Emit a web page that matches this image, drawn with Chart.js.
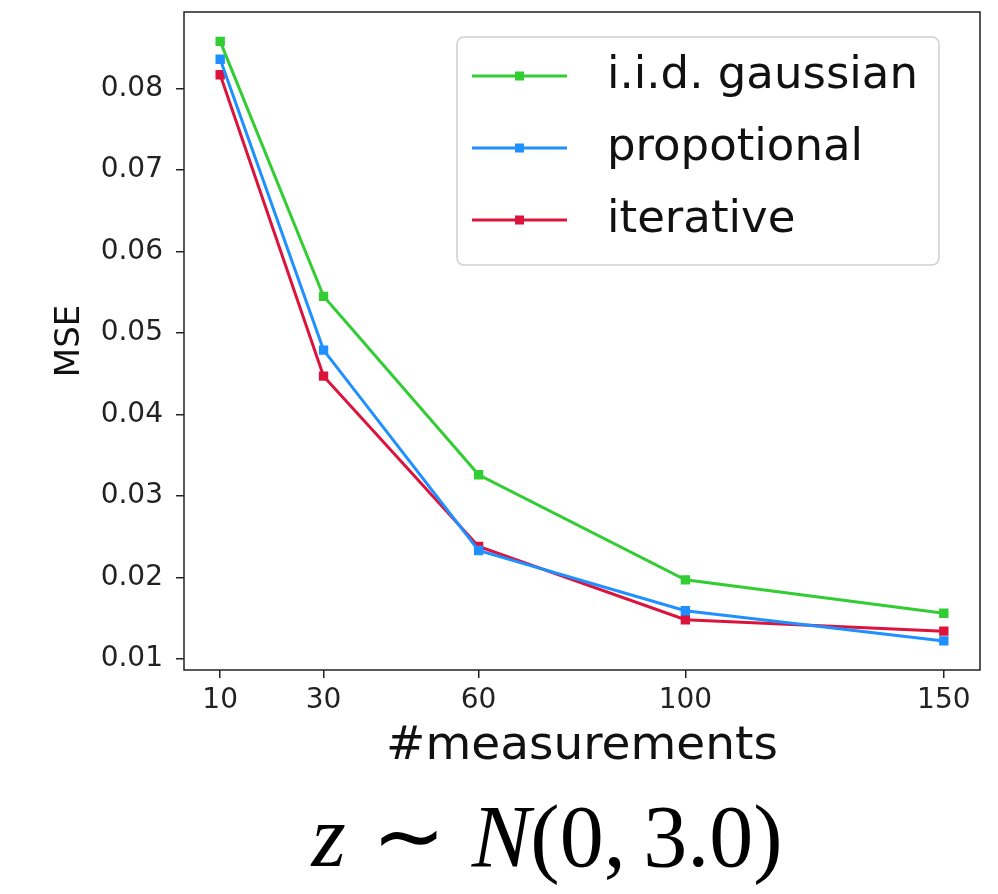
<!DOCTYPE html>
<html>
<head>
<meta charset="utf-8">
<script src="https://cdn.jsdelivr.net/npm/chart.js@4"></script>
<style>
  html, body { margin: 0; padding: 0; background: #fff; }
  #wrap { position: relative; width: 998px; height: 894px; }
  #formula {
    position: absolute; left: 0; top: 793px; width: 1094px;
    text-align: center; font-family: "Liberation Serif", serif;
    font-size: 88px; line-height: 88px; color: #000; white-space: nowrap;
    word-spacing: 4px;
  }
  #formula i { font-style: italic; }
</style>
</head>
<body>
<div id="wrap">
  <canvas id="chart" width="998" height="894"></canvas>
  <div id="formula"><i>z</i>&nbsp;∼&nbsp;<i>N</i>(0,&thinsp;3.0)</div>
</div>
<script>
// dados
const measurements = [10, 30, 60, 100, 150]
const iidGaussian = [0.0858, 0.0545, 0.0326, 0.0197, 0.0156]
const propotional = [0.0836, 0.0479, 0.0233, 0.0159, 0.0122]
const iterative = [0.0817, 0.0447, 0.0238, 0.0148, 0.0134]
const seriesNames = ['i.i.d. gaussian', 'propotional', 'iterative']
const xTicks = [10, 30, 60, 100, 150]
const yTicks = [0.01, 0.02, 0.03, 0.04, 0.05, 0.06, 0.07, 0.08]

const colors = ['#32cd32', '#1e90ff', '#dc143c']

function toPoints(values) {
  return measurements.map((m, i) => ({ x: m, y: values[i] }))
}

function makeDataset(label, values, color) {
  return {
    label: label,
    data: toPoints(values),
    borderColor: color,
    backgroundColor: color,
    borderWidth: 3,
    pointStyle: 'rect',
    pointRadius: 4.5,
    pointHoverRadius: 4.5,
    tension: 0
  }
}

// tira o espaço extra que o Chart.js reserva para os rótulos
function semPadding(s) {
  s.paddingTop = 0
  s.paddingBottom = 0
  s.paddingLeft = 0
  s.paddingRight = 0
}

// caixa em volta da área do gráfico + legenda estilo matplotlib
const frameAndLegend = {
  id: 'frameAndLegend',
  afterDraw(chart) {
    const ctx = chart.ctx
    const a = chart.chartArea
    ctx.save()
    ctx.strokeStyle = '#222'
    ctx.lineWidth = 1.5
    ctx.strokeRect(a.left, a.top, a.right - a.left, a.bottom - a.top)

    // legenda
    const bx = 457, by = 37, bw = 482, bh = 228, r = 7
    ctx.beginPath()
    ctx.roundRect(bx, by, bw, bh, r)
    ctx.fillStyle = 'rgba(255,255,255,0.85)'
    ctx.fill()
    ctx.strokeStyle = '#d0d0d0'
    ctx.lineWidth = 1.5
    ctx.stroke()

    ctx.font = '45px "DejaVu Sans"'
    ctx.textBaseline = 'middle'
    ctx.textAlign = 'left'
    chart.data.datasets.forEach((ds, i) => {
      const y = 76 + i * 72
      ctx.strokeStyle = ds.borderColor
      ctx.lineWidth = 3
      ctx.beginPath()
      ctx.moveTo(472, y)
      ctx.lineTo(567, y)
      ctx.stroke()
      ctx.fillStyle = ds.borderColor
      ctx.fillRect(515, y - 4.5, 9, 9)
      ctx.fillStyle = '#111'
      ctx.fillText(ds.label, 607, y)
    })
    ctx.restore()
  }
}

function criarGrafico() {
  const ctx = document.getElementById('chart').getContext('2d')
  new Chart(ctx, {
    type: 'line',
    data: {
      datasets: [
        makeDataset(seriesNames[0], iidGaussian, colors[0]),
        makeDataset(seriesNames[1], propotional, colors[1]),
        makeDataset(seriesNames[2], iterative, colors[2])
      ]
    },
    options: {
      responsive: false,
      animation: false,
      layout: { padding: { left: 0, right: 18, top: 12, bottom: 894 - 670 - 105 } },
      plugins: {
        legend: { display: false },
        tooltip: { enabled: false }
      },
      scales: {
        x: {
          type: 'linear',
          min: 3,
          max: 157,
          afterBuildTicks: s => { s.ticks = xTicks.map(v => ({ value: v })) },
          afterFit: s => { s.height = 105; semPadding(s) },
          border: { display: false },
          grid: { drawOnChartArea: false, drawTicks: true, tickLength: 8, color: '#222', lineWidth: 1.5 },
          ticks: {
            padding: 6,
            color: '#222',
            font: { family: 'DejaVu Sans', size: 28 },
            maxRotation: 0,
            callback: v => String(v)
          },
          title: {
            display: true,
            text: '#measurements',
            color: '#111',
            font: { family: 'DejaVu Sans', size: 47 },
            padding: { top: 0, bottom: 0 }
          }
        },
        y: {
          min: 0.00863,
          max: 0.0894,
          afterBuildTicks: s => { s.ticks = yTicks.map(v => ({ value: v })) },
          afterFit: s => { s.width = 184; semPadding(s) },
          border: { display: false },
          grid: { drawOnChartArea: false, drawTicks: true, tickLength: 8, color: '#222', lineWidth: 1.5 },
          ticks: {
            padding: 13,
            color: '#222',
            font: { family: 'DejaVu Sans', size: 28 },
            callback: v => v.toFixed(2)
          },
          title: {
            display: true,
            text: 'MSE',
            color: '#111',
            font: { family: 'DejaVu Sans', size: 34 },
            padding: { top: 50, bottom: 0 }
          }
        }
      }
    },
    plugins: [frameAndLegend]
  })
}

window.onload = criarGrafico
</script>
</body>
</html>
